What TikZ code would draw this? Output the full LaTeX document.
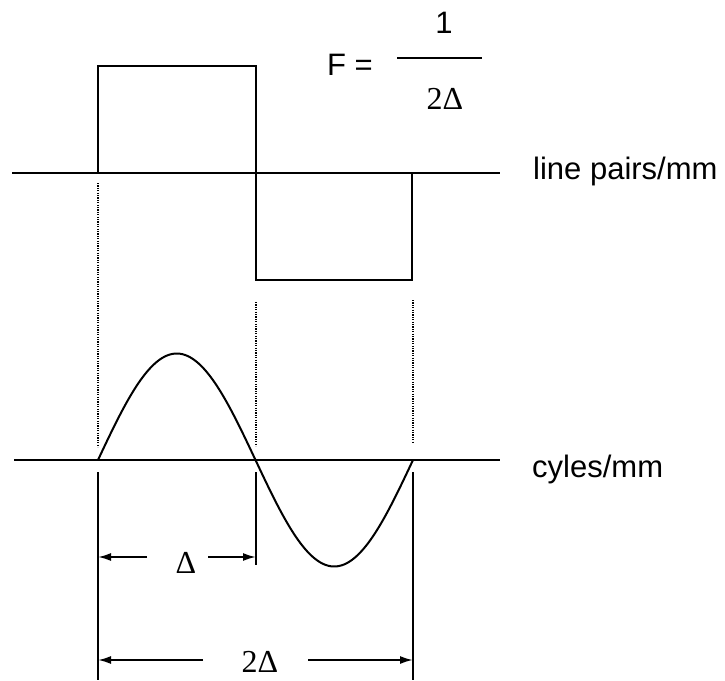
\documentclass[tikz,border=0pt]{standalone}
\usepackage{fontspec}
\setmainfont{Liberation Sans}
\newfontfamily\serifdelta{Liberation Serif}
\usetikzlibrary{arrows.meta}
\begin{document}
\begin{tikzpicture}[x=1pt,y=-1pt,
  axisline/.style={line width=2.6pt},
  waveline/.style={line width=2pt},
  guideline/.style={line width=2pt, dash pattern=on 1.2pt off 1.2pt},
  dimline/.style={line width=1.9pt},
  dimarrow/.style={line width=1.9pt, -{Latex[length=13pt,width=8pt]}},
  sanslabel/.style={inner sep=0pt, font=\fontsize{31}{36}\selectfont},
  seriflabel/.style={inner sep=0pt, font=\serifdelta\fontsize{32}{36}\selectfont}]
\useasboundingbox (0,0) rectangle (725,680);
% coordinates
\coordinate (a1) at (12,173);
\coordinate (a2) at (500,173);
\coordinate (b1) at (14,460);
\coordinate (b2) at (500,460);
\coordinate (s0) at (98,173);
\coordinate (s1) at (98,66);
\coordinate (s2) at (256,66);
\coordinate (s3) at (256,280);
\coordinate (s4) at (412,280);
\coordinate (s5) at (412,173);
% axes
\draw[axisline] (a1) -- (a2);
\draw[axisline] (b1) -- (b2);
% square wave
\draw[waveline] (s0) -- (s1) -- (s2) -- (s3) -- (s4) -- (s5);
% sine wave
\draw[waveline, domain=0:315, samples=120, smooth, variable=\t]
  plot ({98+\t},{460-106.5*sin(\t*1.142857)});
% dotted guides
\coordinate (g1t) at (98,183);   \coordinate (g1b) at (98,447);
\coordinate (g2t) at (256,302);  \coordinate (g2b) at (256,446);
\coordinate (g3t) at (413,300);  \coordinate (g3b) at (413,443);
\draw[guideline] (g1t) -- (g1b);
\draw[guideline] (g2t) -- (g2b);
\draw[guideline, line width=1.5pt] (g3t) -- (g3b);
% dimension lines
\coordinate (d1t) at (98,472);  \coordinate (d1b) at (98,680);
\coordinate (d2t) at (256,472); \coordinate (d2b) at (256,565);
\coordinate (d3t) at (413,472); \coordinate (d3b) at (413,680);
\draw[dimline] (d1t) -- (d1b);
\draw[dimline, line width=2.3pt] (d2t) -- (d2b);
\draw[dimline] (d3t) -- (d3b);
% Delta arrow
\coordinate (e1) at (98,557);  \coordinate (e2) at (256,557);
\node[seriflabel, anchor=base] (delta) at (186,573) {Δ};
\coordinate (e1i) at (147,557); \coordinate (e2i) at (208,557);
\draw[dimarrow] (e1i) -- (e1);
\draw[dimarrow] (e2i) -- (e2);
% 2 Delta arrow
\coordinate (f1) at (98,660);  \coordinate (f2) at (413,660);
\node[seriflabel, anchor=base] (twodelta) at (260,672) {2Δ};
\coordinate (f1i) at (203,660); \coordinate (f2i) at (308,660);
\draw[dimarrow] (f1i) -- (f1);
\draw[dimarrow] (f2i) -- (f2);
% labels
\node[sanslabel, anchor=base west] (lp) at (533,179) {line pairs/mm};
\node[sanslabel, anchor=base west] (cy) at (532,477) {cyles/mm};
% formula
\node[sanslabel, anchor=base west] (F) at (327,75) {F =};
\node[sanslabel, anchor=base] (one) at (444,33) {1};
\node[seriflabel, anchor=base] (den) at (445,109) {2Δ};
\coordinate (fr1) at (397,58); \coordinate (fr2) at (482,58);
\draw[line width=1.6pt] (fr1) -- (fr2);
\end{tikzpicture}
\end{document}
